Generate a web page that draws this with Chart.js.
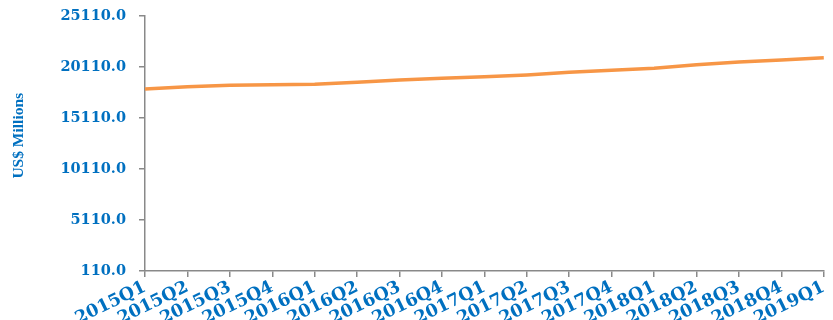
<!DOCTYPE html>
<html>
<head>
<meta charset="utf-8">
<script src="https://cdn.jsdelivr.net/npm/chart.js@4/dist/chart.umd.min.js"></script>
<style>
  html, body { margin: 0; padding: 0; background: #ffffff; }
  #wrap { width: 833px; height: 320px; position: relative; }
</style>
</head>
<body>
<div id="wrap"><canvas id="c"></canvas></div>
<script>
// Quarterly series, US$ millions
const quarters = [
  '2015Q1','2015Q2','2015Q3','2015Q4',
  '2016Q1','2016Q2','2016Q3','2016Q4',
  '2017Q1','2017Q2','2017Q3','2017Q4',
  '2018Q1','2018Q2','2018Q3','2018Q4',
  '2019Q1'
];
const values = [
  17950, 18180, 18315, 18375,
  18415, 18620, 18835, 19000,
  19160, 19330, 19590, 19800,
  19985, 20335, 20600, 20800,
  21020
];
const yTicks = [110, 5110, 10110, 15110, 20110, 25110];

const blue = '#0070C0';
const axisGrey = '#898989';

new Chart(document.getElementById('c'), {
  type: 'line',
  data: {
    labels: quarters,
    datasets: [{
      data: values,
      borderColor: '#F79646',
      borderWidth: 3.5,
      pointRadius: 0,
      tension: 0,
      fill: false
    }]
  },
  options: {
    responsive: true,
    maintainAspectRatio: false,
    animation: false,
    layout: { padding: { left: 6, right: 8, top: 16, bottom: 0 } },
    plugins: { legend: { display: false }, tooltip: { enabled: false } },
    scales: {
      x: {
        offset: false,
        grid: { display: true, drawOnChartArea: false, tickLength: 6, color: axisGrey, lineWidth: 1.5 },
        border: { color: axisGrey, width: 1.5 },
        ticks: {
          color: blue,
          font: { family: "'DejaVu Serif', serif", size: 17.5, weight: 'bold' },
          minRotation: 26,
          maxRotation: 26,
          autoSkip: false,
          padding: 0
        },
        afterFit: s => { s.height = 49; }
      },
      y: {
        min: 110,
        max: 25110,
        afterBuildTicks: s => { s.ticks = yTicks.map(v => ({ value: v })); },
        grid: { display: true, drawOnChartArea: false, tickLength: 6, color: axisGrey, lineWidth: 1.5 },
        border: { color: axisGrey, width: 1.5 },
        ticks: {
          color: blue,
          font: { family: "'DejaVu Serif', serif", size: 14.5, weight: 'bold' },
          padding: 13,
          callback: v => Number(v).toFixed(1)
        },
        title: {
          display: true,
          // leading spaces nudge the rotated title slightly above centre
          text: '    US$ Millions',
          color: blue,
          font: { family: "'Liberation Serif', serif", size: 15.5, weight: 'bold' }
        },
        afterFit: s => {
          s.width = 139;
          // keep the label gap from adding extra space above/below the axis
          s.paddingTop = 9;
          s.paddingBottom = 9;
        }
      }
    }
  }
});
</script>
</body>
</html>
